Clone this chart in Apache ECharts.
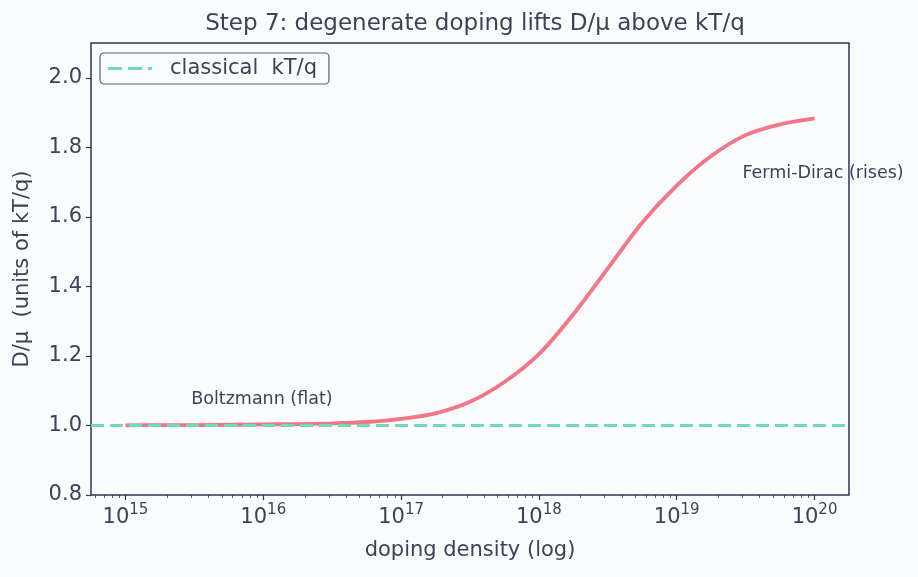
<!DOCTYPE html>
<html>
<head>
<meta charset="utf-8">
<script src="https://cdn.jsdelivr.net/npm/echarts@6/dist/echarts.min.js"></script>
<style>
  html, body { margin: 0; padding: 0; background: #fafbfd; }
  #chart { width: 918px; height: 577px; }
</style>
</head>
<body>
<div id="chart"></div>
<script>
// doping density given as log10 exponent
const densityExp = [15, 15.25, 15.5, 15.75, 16, 16.25, 16.5, 16.75, 17, 17.25, 17.5, 17.75,
  18, 18.25, 18.5, 18.75, 19, 19.25, 19.5, 19.75, 20]
const fermiDirac = [1.000, 1.001, 1.001, 1.002, 1.003, 1.004, 1.006, 1.010, 1.019, 1.035, 1.068, 1.125,
  1.205, 1.32, 1.452, 1.584, 1.69, 1.775, 1.835, 1.866, 1.883]
const classical = 1.0
const majorExp = [15, 16, 17, 18, 19, 20]
const yTicks = [0.8, 1.0, 1.2, 1.4, 1.6, 1.8, 2.0]
const notes = [
  { text: 'Boltzmann (flat)', exp: Math.log10(3e15), val: 1.05 },
  { text: 'Fermi-Dirac (rises)', exp: Math.log10(3e19), val: 1.70 }
]

const minorExp = []
for (let n = 14; n <= 20; n++) {
  for (let k = 2; k <= 9; k++) {
    const e = n + Math.log10(k)
    if (e > 14.75 && e < 20.25) minorExp.push(e)
  }
}

const textColor = '#3b4357'
const spine = '#2b3650'
const font = 'DejaVu Sans'
const green = '#6ddbb8'

const chart = echarts.init(document.getElementById('chart'))
chart.setOption({
  backgroundColor: '#fafbfd',
  animation: false,
  textStyle: { fontFamily: font },
  title: {
    text: 'Step 7: degenerate doping lifts D/μ above kT/q',
    left: 470, top: 8, textAlign: 'center',
    textStyle: { fontFamily: font, fontSize: 23, fontWeight: 'normal', color: textColor }
  },
  legend: {
    left: 100, top: 53,
    padding: [5, 12, 5, 8],
    borderColor: '#5a6070', borderWidth: 1.2, borderRadius: 4,
    backgroundColor: '#fafbfd',
    itemWidth: 44, itemHeight: 3,
    itemStyle: { color: green, borderWidth: 0 },
    textStyle: { fontFamily: font, fontSize: 21, color: textColor, padding: [0, 0, 0, 13] },
    data: [{ name: 'classical  kT/q', icon: 'path://M0,0h14v3h-14z M20,0h14v3h-14z M40,0h4v3h-4z' }]
  },
  grid: {
    left: 91, right: 69, top: 43, bottom: 82,
    show: true, borderColor: spine, borderWidth: 1.5, backgroundColor: 'transparent'
  },
  xAxis: [{
    type: 'value', min: 14.75, max: 20.25,
    name: 'doping density (log)', nameLocation: 'middle', nameGap: 45,
    nameTextStyle: { fontFamily: font, fontSize: 21, color: textColor },
    axisLine: { show: false },
    splitLine: { show: false },
    axisTick: { show: true, length: 5, lineStyle: { color: spine, width: 1.2 }, customValues: majorExp },
    axisLabel: {
      customValues: majorExp, margin: 8,
      formatter: v => '{b|10}{s|' + Math.round(v) + '}',
      rich: {
        b: { fontFamily: font, fontSize: 21, color: textColor, verticalAlign: 'bottom' },
        s: { fontFamily: font, fontSize: 15, color: textColor, verticalAlign: 'bottom', padding: [0, 0, 10, 0] }
      }
    }
  }, {
    type: 'value', min: 14.75, max: 20.25, position: 'bottom',
    axisLine: { show: false }, splitLine: { show: false },
    axisLabel: { show: false },
    axisTick: { show: true, length: 3, lineStyle: { color: spine, width: 0.8 }, customValues: minorExp }
  }],
  yAxis: {
    type: 'value', min: 0.8, max: 2.1,
    name: 'D/μ  (units of kT/q)', nameLocation: 'middle', nameGap: 58,
    nameTextStyle: { fontFamily: font, fontSize: 21, color: textColor },
    axisLine: { show: false },
    splitLine: { show: false },
    axisTick: { show: true, length: 5, lineStyle: { color: spine, width: 1.2 }, customValues: yTicks },
    axisLabel: {
      customValues: yTicks, margin: 9,
      formatter: v => v.toFixed(1),
      fontFamily: font, fontSize: 21, color: textColor
    }
  },
  series: [{
    name: 'Fermi-Dirac',
    type: 'line',
    data: densityExp.map((e, i) => [e, fermiDirac[i]]),
    smooth: 0.3,
    symbol: 'none',
    lineStyle: { color: '#f47488', width: 3.8 },
    z: 2
  }, {
    name: 'classical  kT/q',
    type: 'line',
    data: [],
    symbol: 'none',
    itemStyle: { color: green },
    lineStyle: { color: green, width: 3, type: [13, 6] },
    markLine: {
      silent: true, symbol: 'none', label: { show: false },
      lineStyle: { color: green, width: 3, type: [13, 6] },
      data: [{ yAxis: classical }]
    },
    z: 3
  }]
})

chart.setOption({
  graphic: notes.map(n => {
    const p = chart.convertToPixel({ xAxisIndex: 0, yAxisIndex: 0 }, [n.exp, n.val])
    return {
      type: 'text', x: p[0], y: p[1], z: 10,
      style: { text: n.text, fontFamily: font, fontSize: 17.5, fill: textColor, textVerticalAlign: 'bottom' }
    }
  })
})
</script>
</body>
</html>
